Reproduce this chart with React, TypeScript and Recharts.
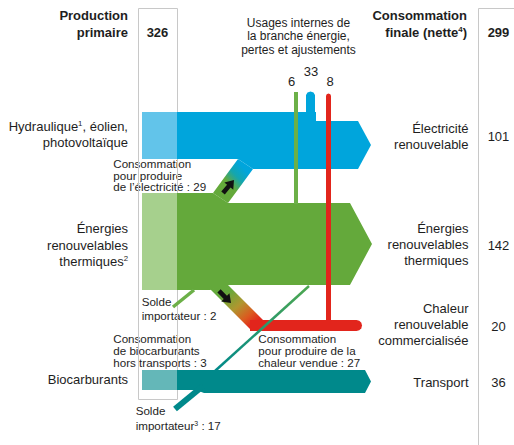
import {
  Area,
  ComposedChart,
  Customized,
  Line,
  ReferenceArea,
  ReferenceLine,
  Scatter,
  XAxis,
  YAxis,
} from "recharts";

// Values (TWh)
const productionTotal = 326;
const finalTotal = 299;

const sourceLabels = [
  ["Hydraulique^1, éolien,", "photovoltaïque"],
  ["Énergies", "renouvelables", "thermiques^2"],
  ["Biocarburants"],
];
const sourceValues = [105, 199, 22];

const useLabels = [
  ["Électricité", "renouvelable"],
  ["Énergies", "renouvelables", "thermiques"],
  ["Chaleur", "renouvelable", "commercialisée"],
  ["Transport"],
];
const useValues = [101, 142, 20, 36];

const internalTitle = ["Usages internes de", "la branche énergie,", "pertes et ajustements"];
const internalValues = [6, 33, 8]; // thermal, electricity, sold heat

const transferValues = { elec: 29, importThermal: 2, heat: 27, bioOther: 3, importBio: 17 };

// ---- layout (px in the 514x445 frame, used as the axes' domain) ----
const W = 514;
const H = 445;
const BLUE = "#00a5dc";
const BLUE_L = "#62c4ea";
const GREEN = "#64a93b";
const GREEN_L = "#a6d08d";
const GREEN_V = "#6cb048";
const TEAL = "#00898b";
const TEAL_L = "#64b7b8";
const RED = "#e2251c";
const INK = "#1e1e1e";
const FONT = "'Liberation Sans', Arial, Helvetica, sans-serif";

type Pt = [number, number, number];
const bands: { key: string; fill: string; pts: Pt[] }[] = [
  { key: "blueL", fill: BLUE_L, pts: [[142, 112, 159], [177, 112, 159]] },
  { key: "blue", fill: BLUE, pts: [[177, 112, 159], [238, 112, 159], [253, 112, 169], [316, 112, 169]] },
  { key: "blueStub", fill: BLUE, pts: [[306, 95, 113], [307.5, 92.5, 113], [310.5, 91.5, 113], [313.5, 92.5, 113], [315, 95, 113]] },
  { key: "blueArrow", fill: BLUE, pts: [[315, 121, 169], [358, 121, 169], [371, 145, 145]] },
  { key: "greenL", fill: GREEN_L, pts: [[142, 193, 290], [177, 193, 290]] },
  { key: "green", fill: GREEN, pts: [[177, 193, 290], [210, 193, 290], [213, 193, 289], [227, 202.3, 285], [228, 203, 285], [350, 203, 285], [372, 244, 244]] },
  { key: "elecT", fill: "url(#gElec)", pts: [[213, 193, 193], [228, 172.6, 203], [238, 159, 189.4], [253, 169, 169]] },
  { key: "tealL", fill: TEAL_L, pts: [[142, 370, 390], [177, 370, 390]] },
  { key: "teal", fill: TEAL, pts: [[177, 370, 390], [196, 370, 390], [204, 370, 393], [365, 370, 393], [371, 381.5, 381.5]] },
  { key: "greenV", fill: GREEN_V, pts: [[294, 92, 204], [298, 92, 204]] },
];
const bandsTop: { key: string; fill: string; pts: Pt[] }[] = [
  { key: "heatT", fill: "url(#gHeat)", pts: [[210, 289, 289], [227, 284, 306], [252, 309, 331], [263, 320, 331]] },
  { key: "redBar", fill: RED, pts: [[250, 320, 331], [356.5, 320, 331], [359.3, 320.7, 330.3], [361.3, 322.8, 328.2], [362, 325.5, 325.5]] },
  { key: "redV", fill: RED, pts: [[326, 96, 321], [326.7, 94.2, 321], [328.5, 93.5, 321], [330.3, 94.2, 321], [331, 96, 321]] },
];
const lines: { key: string; stroke: string; width: number; pts: [number, number][] }[] = [
  { key: "imp2", stroke: GREEN_V, width: 3.5, pts: [[173, 307], [194, 290]] },
  { key: "imp17", stroke: TEAL, width: 6, pts: [[175, 409], [203, 386]] },
  { key: "bio3", stroke: "url(#gBio)", width: 2.5, pts: [[215, 371], [309, 286]] },
];
const arrows = [
  { x: 228.5, y: 186.5, rot: -50 },
  { x: 225, y: 297, rot: 45 },
];

function Txt({ x, y, anchor = "start", size = 13, bold = false, text }: any) {
  const parts = text.split(/\^(\d)/);
  return (
    <text x={x} y={y} textAnchor={anchor} fontSize={size} fontWeight={bold ? 700 : 400} fontFamily={FONT} fill={INK}>
      {parts.map((p: string, i: number) =>
        i % 2 === 1 ? (
          <tspan key={i} fontSize={size * 0.6} dy={-size * 0.38}>{p}</tspan>
        ) : (
          <tspan key={i} dy={i > 0 ? size * 0.38 : 0}>{p}</tspan>
        ),
      )}
    </text>
  );
}

function Block({ x, y, lh, anchor, size, bold, rows }: any) {
  return (
    <g>
      {rows.map((t: string, i: number) => (
        <Txt key={i} x={x} y={y + i * lh} anchor={anchor} size={size} bold={bold} text={t} />
      ))}
    </g>
  );
}

function Labels() {
  const srcY = [131, 233.3, 384.3];
  const srcValY = [140.7, 245.7, 384.3];
  const useY = [132.7, 233.3, 312.7, 386.7];
  const useValY = [140.7, 250, 331, 386.7];
  const intX = [291.5, 311, 330];
  const intY = [86, 76, 86];
  const small = 11.6;
  return (
    <g>
      <Block x={128} y={20} lh={16.5} anchor="end" size={13} bold rows={["Production", "primaire"]} />
      <Txt x={157.5} y={36.5} anchor="middle" bold text={String(productionTotal)} />
      <Block x={467} y={20} lh={16.5} anchor="end" size={13} bold rows={["Consommation", "finale (nette^4)"]} />
      <Txt x={498.5} y={36.5} anchor="middle" bold text={String(finalTotal)} />
      <Block x={298.5} y={26.5} lh={13.5} anchor="middle" size={12} rows={internalTitle} />
      {internalValues.map((v, i) => (
        <Txt key={i} x={intX[i]} y={intY[i]} anchor="middle" text={String(v)} />
      ))}
      {sourceLabels.map((rows, i) => (
        <Block key={i} x={128} y={srcY[i]} lh={16.4} anchor="end" size={13} rows={rows} />
      ))}
      {sourceValues.map((v, i) => (
        <Txt key={i} x={157} y={srcValY[i]} anchor="middle" text={String(v)} />
      ))}
      {useLabels.map((rows, i) => (
        <Block key={i} x={468.5} y={useY[i]} lh={16} anchor="end" size={13} rows={rows} />
      ))}
      {useValues.map((v, i) => (
        <Txt key={i} x={498.5} y={useValY[i]} anchor="middle" text={String(v)} />
      ))}
      <Block x={113.3} y={167.7} lh={11.8} size={small} rows={["Consommation", "pour produire", `de l’électricité : ${transferValues.elec}`]} />
      <Block x={141.7} y={306} lh={14} size={small} rows={["Solde", `importateur : ${transferValues.importThermal}`]} />
      <Block x={113.3} y={342.7} lh={11.9} size={small} rows={["Consommation", "de biocarburants", `hors transports : ${transferValues.bioOther}`]} />
      <Block x={135.7} y={415} lh={15} size={small} rows={["Solde", `importateur^3 : ${transferValues.importBio}`]} />
      <Block x={258.3} y={343.3} lh={11.8} size={small} rows={["Consommation", "pour produire de la", `chaleur vendue : ${transferValues.heat}`]} />
    </g>
  );
}

const ArrowShape = (props: any) => {
  const { cx, cy, payload } = props;
  return (
    <polygon
      points="-8.5,-2.3 0.5,-2.3 0.5,-5.8 8.5,0 0.5,5.8 0.5,2.3 -8.5,2.3"
      transform={`translate(${cx},${cy}) rotate(${payload.rot})`}
      fill="#111"
    />
  );
};

const toArea = (pts: Pt[]) => pts.map(([x, a, b]) => ({ x, v: [a, b] }));
const toLine = (pts: [number, number][]) => pts.map(([x, y]) => ({ x, y }));

export default function App() {
  return (
    <div style={{ position: "absolute", left: 0, top: 0, background: "#fff" }}>
      <ComposedChart width={W} height={H} margin={{ top: 0, right: 0, bottom: 0, left: 0 }}>
        <defs>
          <linearGradient id="gElec" x1="0" y1="1" x2="1" y2="0">
            <stop offset="0" stopColor={GREEN} />
            <stop offset="0.42" stopColor={GREEN} />
            <stop offset="0.6" stopColor="#14a6ae" />
            <stop offset="0.78" stopColor={BLUE} />
            <stop offset="1" stopColor={BLUE} />
          </linearGradient>
          <linearGradient id="gHeat" x1="0" y1="0" x2="1" y2="1">
            <stop offset="0" stopColor={GREEN} />
            <stop offset="0.25" stopColor={GREEN} />
            <stop offset="0.5" stopColor="#b0962f" />
            <stop offset="0.7" stopColor="#db5a1f" />
            <stop offset="0.85" stopColor={RED} />
            <stop offset="1" stopColor={RED} />
          </linearGradient>
          <linearGradient id="gBio" x1="0" y1="1" x2="1" y2="0">
            <stop offset="0" stopColor={TEAL} />
            <stop offset="1" stopColor="#4ea750" />
          </linearGradient>
        </defs>
        <XAxis type="number" dataKey="x" domain={[0, W]} hide allowDataOverflow />
        <YAxis type="number" dataKey="y" domain={[0, H]} reversed hide allowDataOverflow />
        <ReferenceArea x1={138.5} x2={177.5} y1={8.5} y2={399.5} fill="none" stroke="#c8c8c8" strokeWidth={1} fillOpacity={0} />
        <ReferenceLine segment={[{ x: 478.5, y: 8.5 }, { x: 478.5, y: H }]} stroke="#c8c8c8" ifOverflow="visible" />
        <ReferenceLine segment={[{ x: 478.5, y: 8.5 }, { x: W, y: 8.5 }]} stroke="#c8c8c8" ifOverflow="visible" />
        {bands.map((b) => (
          <Area
            key={b.key}
            data={toArea(b.pts)}
            dataKey="v"
            type="linear"
            stroke="none"
            fill={b.fill}
            fillOpacity={1}
            dot={false}
            activeDot={false}
            isAnimationActive={false}
          />
        ))}
        {lines.map((l) => (
          <Line
            key={l.key}
            data={toLine(l.pts)}
            dataKey="y"
            type="linear"
            stroke={l.stroke}
            strokeWidth={l.width}
            dot={false}
            activeDot={false}
            isAnimationActive={false}
          />
        ))}
        {bandsTop.map((b) => (
          <Area
            key={b.key}
            data={toArea(b.pts)}
            dataKey="v"
            type="linear"
            stroke="none"
            fill={b.fill}
            fillOpacity={1}
            dot={false}
            activeDot={false}
            isAnimationActive={false}
          />
        ))}
        <Scatter data={arrows} dataKey="y" shape={ArrowShape} isAnimationActive={false} />
        <Customized component={Labels} />
      </ComposedChart>
    </div>
  );
}
